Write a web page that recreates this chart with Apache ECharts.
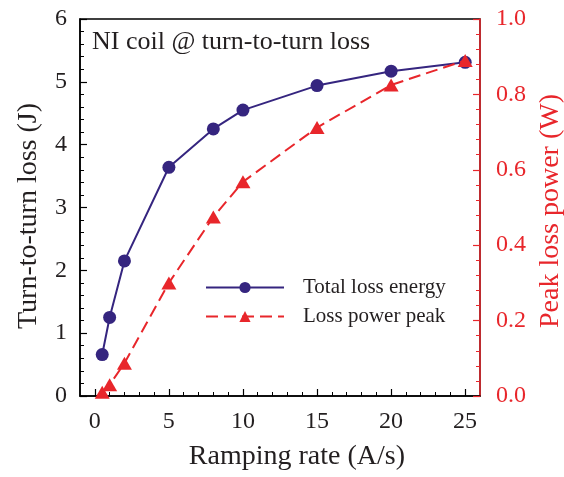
<!DOCTYPE html>
<html>
<head>
<meta charset="utf-8">
<script src="https://cdn.jsdelivr.net/npm/echarts@6/dist/echarts.min.js"></script>
<style>html,body{margin:0;padding:0;background:#fff}#c{width:564px;height:477px}</style>
</head>
<body>
<div id="c"></div>
<script>
const rampRates = [0.5, 1, 2, 5, 8, 10, 15, 20, 25];
const totalLossEnergy = [0.66, 1.25, 2.15, 3.64, 4.25, 4.55, 4.94, 5.17, 5.31];
const lossPowerPeak = [0.01, 0.03, 0.087, 0.30, 0.475, 0.568, 0.712, 0.825, 0.89];
const seriesNames = ['Total loss energy', 'Loss power peak'];
const xTicks = [0, 5, 10, 15, 20, 25];

const FONT = "'Liberation Serif', 'DejaVu Serif', serif";
const BLUE = '#35257f';
const RED = '#e8262b';
const TXT = '#231f20';

const chart = echarts.init(document.getElementById('c'), null, {renderer: 'canvas'});
chart.setOption({
  animation: false,
  backgroundColor: '#fff',
  title: {
    text: 'NI coil @ turn-to-turn loss',
    left: 92, top: 29, padding: 0,
    textStyle: {fontFamily: FONT, fontSize: 26, fontWeight: 'normal', color: TXT}
  },
  legend: {
    orient: 'vertical',
    left: 205, top: 277,
    itemWidth: 78, itemHeight: 14, itemGap: 8,
    padding: 0,
    textStyle: {fontFamily: FONT, fontSize: 21, color: TXT, padding: [0, 0, 0, 14]},
    data: seriesNames
  },
  grid: [
    {left: 80, right: 84, top: 19, bottom: 81, show: true, borderColor: '#000', borderWidth: 1.5,
     backgroundColor: 'transparent', containLabel: false, outerBoundsMode: 'none'},
    {left: 94.8, right: 98.9, top: 19, bottom: 81, containLabel: false, outerBoundsMode: 'none'}
  ],
  xAxis: [
    {
      type: 'value', gridIndex: 0, min: -1, max: 26,
      axisLine: {show: true, onZero: false, lineStyle: {color: '#000', width: 1.5}},
      axisTick: {show: false}, axisLabel: {show: false}, splitLine: {show: false}
    },
    {
      type: 'value', gridIndex: 1, min: xTicks[0], max: xTicks[xTicks.length - 1], interval: 5,
      axisLine: {show: false, onZero: false},
      axisTick: {show: true, inside: true, length: 7, lineStyle: {color: '#000', width: 1.2}},
      minorTick: {show: true, splitNumber: 5, length: 4, lineStyle: {color: '#000', width: 1}},
      axisLabel: {margin: 14, fontFamily: FONT, fontSize: 24, color: TXT},
      splitLine: {show: false},
      name: 'Ramping rate (A/s)', nameLocation: 'middle', nameGap: 47,
      nameTextStyle: {fontFamily: FONT, fontSize: 28, color: TXT, padding: [0, 0, 0, 34]}
    }
  ],
  yAxis: [
    {
      type: 'value', gridIndex: 0, min: 0, max: 6, interval: 1,
      axisLine: {show: true, onZero: false, lineStyle: {color: '#000', width: 1.5}},
      axisTick: {show: true, inside: true, length: 7, lineStyle: {color: '#000', width: 1.2}},
      minorTick: {show: true, splitNumber: 5, length: 4, lineStyle: {color: '#000', width: 1}},
      axisLabel: {margin: 13, fontFamily: FONT, fontSize: 24, color: TXT},
      splitLine: {show: false},
      name: 'Turn-to-turn loss (J)', nameLocation: 'middle', nameGap: 37,
      nameTextStyle: {fontFamily: FONT, fontSize: 28, color: TXT, padding: [0, 17, 0, 0]}
    },
    {
      type: 'value', gridIndex: 0, position: 'right', min: 0, max: 1, interval: 0.2,
      axisLine: {show: true, onZero: false, lineStyle: {color: RED, width: 1.5}},
      axisTick: {show: true, inside: true, length: 7, lineStyle: {color: RED, width: 1.2}},
      minorTick: {show: true, splitNumber: 5, length: 4, lineStyle: {color: RED, width: 1}},
      axisLabel: {margin: 16, fontFamily: FONT, fontSize: 24, color: RED, formatter: v => v.toFixed(1)},
      splitLine: {show: false},
      name: 'Peak loss power (W)', nameLocation: 'middle', nameGap: 52,
      nameTextStyle: {fontFamily: FONT, fontSize: 28, color: RED, padding: [0, 7, 0, 0]}
    },
    {
      type: 'value', gridIndex: 1, min: 0, max: 6, show: false,
      axisLine: {show: false, onZero: false}, axisTick: {show: false}, axisLabel: {show: false}, splitLine: {show: false}
    }
  ],
  series: [
    {
      name: seriesNames[0], type: 'line', xAxisIndex: 0, yAxisIndex: 0,
      data: rampRates.map((x, i) => [x, totalLossEnergy[i]]),
      symbol: 'circle', symbolSize: 13,
      lineStyle: {color: BLUE, width: 2}, itemStyle: {color: BLUE},
      z: 3
    },
    {
      name: seriesNames[1], type: 'line', xAxisIndex: 0, yAxisIndex: 1,
      data: rampRates.map((x, i) => [x, lossPowerPeak[i]]),
      symbol: 'triangle', symbolSize: [15, 13],
      lineStyle: {color: RED, width: 2, type: [12, 6]}, itemStyle: {color: RED},
      z: 4
    }
  ]
});
</script>
</body>
</html>
